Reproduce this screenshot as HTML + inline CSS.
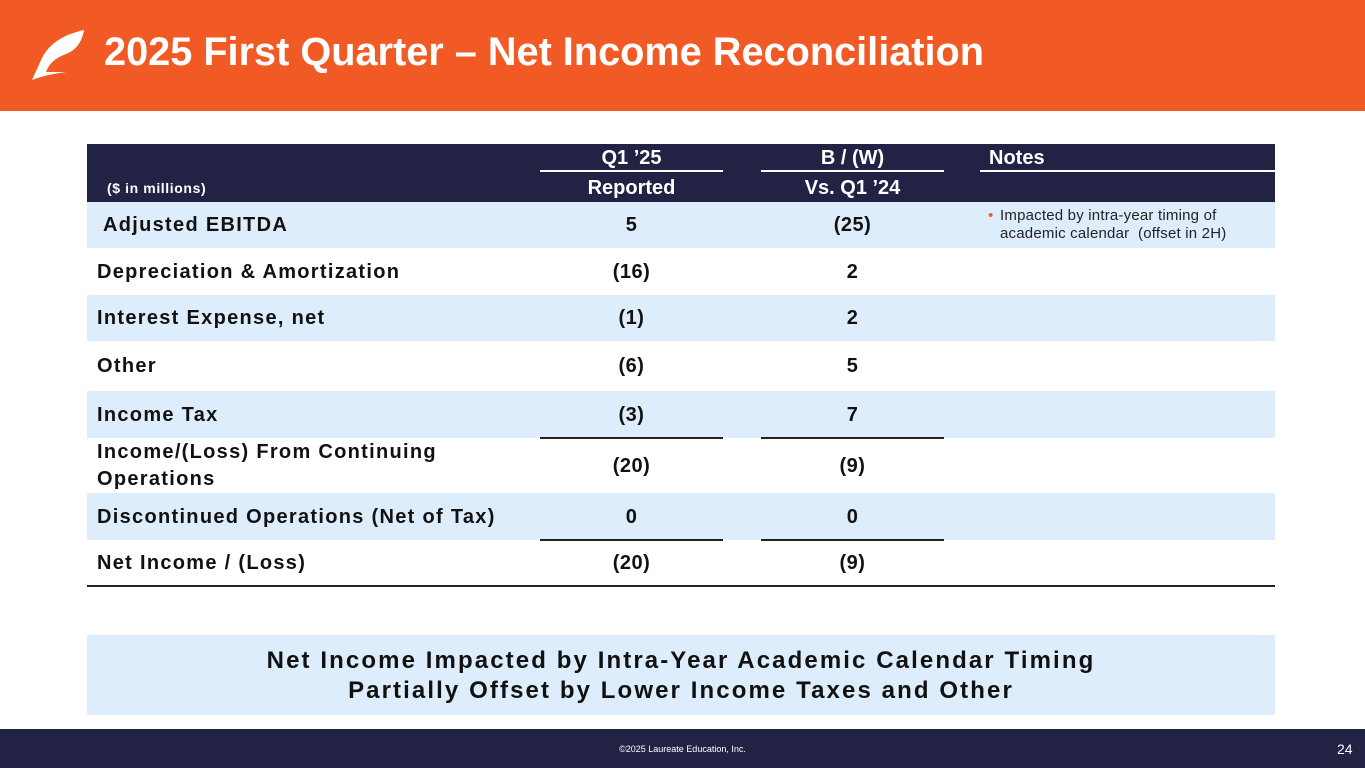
<!DOCTYPE html>
<html><head><meta charset="utf-8"><style>
body{margin:0;width:1365px;height:768px;position:relative;overflow:hidden;background:#fff;font-family:"Liberation Sans",Arial,sans-serif}
.abs{position:absolute}
.hdr{left:0;top:0;width:1365px;height:111px;background:#f15a24}
.title{left:104px;top:30px;color:#fff;font-size:39.7px;font-weight:bold;white-space:nowrap}
.th{left:87px;top:144px;width:1188px;height:58px;background:#222244}
.wl{height:2px;background:#fff;top:170px}
.ht{color:#fff;font-weight:bold;font-size:20px;text-align:center}
.row{left:87px;width:1188px}
.lb{left:97px;font-weight:bold;font-size:20px;color:#111;letter-spacing:1.3px}
.v{font-weight:bold;font-size:20px;color:#111;text-align:center;width:183px;letter-spacing:0.5px}
.bl{height:2px;background:#222}
</style></head><body>
<div class="abs hdr"></div>
<svg class="abs" style="left:32px;top:30px" width="54" height="52"><path d="M52 0 C34 4 18 12 10 28 L0 50 C10 46 20 44 34 42 L14 42 C18 32 24 28 34 24 C44 20 50 12 52 0Z" fill="#fff"/></svg>
<div class="abs title">2025 First Quarter – Net Income Reconciliation</div>
<div class="abs th"></div>
<div class="abs wl" style="left:540px;width:183px"></div>
<div class="abs wl" style="left:761px;width:183px"></div>
<div class="abs wl" style="left:980px;width:295px"></div>
<div class="abs ht" style="left:540px;top:147px;width:183px">Q1 ’25</div>
<div class="abs ht" style="left:761px;top:147px;width:183px">B / (W)</div>
<div class="abs ht" style="left:989px;top:147px;text-align:left">Notes</div>
<div class="abs ht" style="left:540px;top:177px;width:183px">Reported</div>
<div class="abs ht" style="left:761px;top:177px;width:183px">Vs. Q1 ’24</div>
<div class="abs" style="left:107px;top:180px;color:#fff;font-weight:bold;font-size:14px;letter-spacing:0.6px">($ in millions)</div>
<div id="rows"></div>
<div class="abs bl" style="left:540px;width:183px;top:437px"></div>
<div class="abs bl" style="left:761px;width:183px;top:437px"></div>
<div class="abs bl" style="left:540px;width:183px;top:539px"></div>
<div class="abs bl" style="left:761px;width:183px;top:539px"></div>
<div class="abs bl" style="left:87px;width:1188px;top:585px"></div>
<div class="abs" style="left:1000px;top:207px;font-size:15px;color:#222;line-height:18px;letter-spacing:0.2px"><span style="color:#f15a24;position:absolute;left:-12px">•</span>Impacted by intra-year timing of<br>academic calendar &nbsp;(offset in 2H)</div>
<div class="abs" style="left:87px;top:635px;width:1188px;height:80px;background:#deedfb;text-align:center;font-weight:bold;font-size:24px;color:#111;line-height:30px;padding-top:11px;box-sizing:border-box;letter-spacing:2.1px">Net Income Impacted by Intra-Year Academic Calendar Timing<br>Partially Offset by Lower Income Taxes and Other</div>
<div class="abs" style="left:0;top:729px;width:1365px;height:39px;background:#222244"></div>
<div class="abs" style="left:0;top:744px;width:1365px;text-align:center;color:#fff;font-size:9px">©2025 Laureate Education, Inc.</div>
<div class="abs" style="left:1337px;top:741px;color:#fff;font-size:14px">24</div>
<script>
const labels=["Adjusted EBITDA","Depreciation & Amortization","Interest Expense, net","Other","Income Tax","Income/(Loss) From Continuing<br>Operations","Discontinued Operations (Net of Tax)","Net Income / (Loss)"];
const reported=["5","(16)","(1)","(6)","(3)","(20)","0","(20)"];
const vsPrior=["(25)","2","2","5","7","(9)","0","(9)"];
const tops=[202,248,295,341,391,438,493,540];
const hts=[46,47,46,50,47,55,47,46];
const c=document.getElementById('rows');
labels.forEach((l,i)=>{
 const r=document.createElement('div');r.className='abs row';
 
 
 r.style.top=tops[i]+'px';r.style.height=hts[i]+'px';r.style.background=i%2==0?'#deedfb':'#fff';c.appendChild(r);
 const mid=tops[i]+hts[i]/2;
 const a=document.createElement('div');a.className='abs lb';a.innerHTML=l;
 
 
 if(i==0)a.style.left='103px';
 const two=l.includes('<br>');a.style.top=(mid-(two?27:12))+'px';a.style.lineHeight='27px';if(!two)a.style.lineHeight='24px';c.appendChild(a);
 [[reported[i],540],[vsPrior[i],761]].forEach(([t,x])=>{
  const v=document.createElement('div');v.className='abs v';v.textContent=t;
  
  
  v.style.left=x+'px';v.style.top=(mid-12)+'px';v.style.lineHeight='24px';c.appendChild(v);
 });
});
</script>
</body></html>
